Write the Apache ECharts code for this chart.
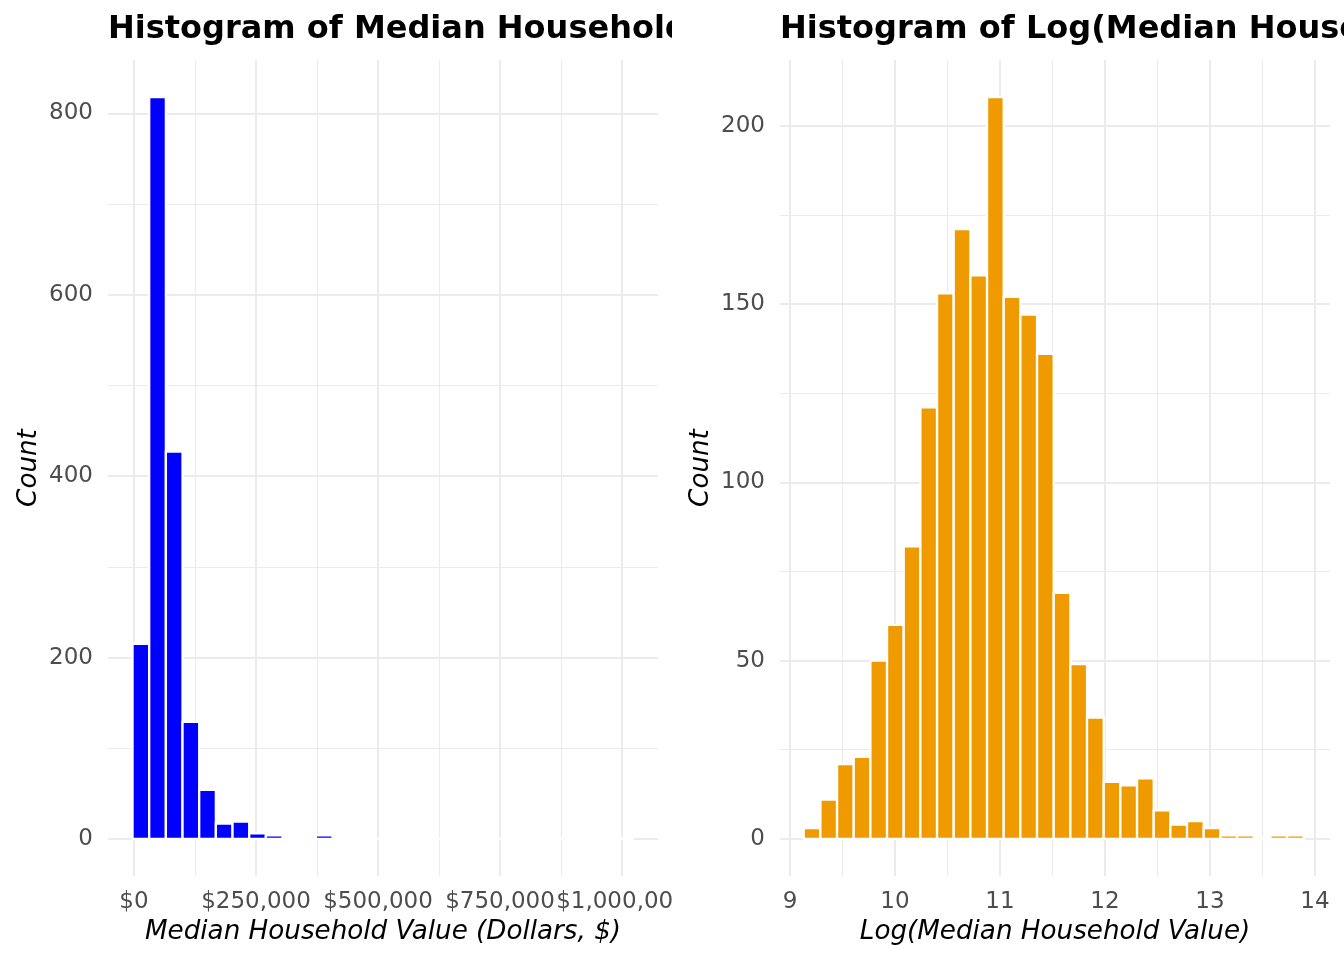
<!DOCTYPE html>
<html>
<head>
<meta charset="utf-8">
<script src="https://cdn.jsdelivr.net/npm/echarts/dist/echarts.min.js"></script>
<style>
html,body{margin:0;padding:0;background:#fff;}
#wrap{display:flex;width:1344px;height:960px;}
.c{width:672px;height:960px;overflow:hidden;}
</style>
</head>
<body>
<div id="wrap"><div id="left" class="c"></div><div id="right" class="c"></div></div>
<script>
// ---- data ----
const leftTitle = 'Histogram of Median Household Value';
const rightTitle = 'Histogram of Log(Median Household Value)';
const leftXName = 'Median Household Value (Dollars, $)';
const rightXName = 'Log(Median Household Value)';
const yName = 'Count';

// histogram bins: 30 equal-width bins
const leftBinStart = -3000;
const leftBinWidth = 34153;
const leftCounts = [215, 818, 427, 129, 54, 17, 19, 6, 4, 0, 0, 4, 0, 0, 0, 0, 0, 0, 0, 0, 0, 0, 0, 0, 0, 0, 0, 0, 0, 1];

const rightBinStart = 9.131;
const rightBinWidth = 0.15872;
const rightCounts = [3, 11, 21, 23, 50, 60, 82, 121, 153, 171, 158, 208, 152, 147, 136, 69, 49, 34, 16, 15, 17, 8, 4, 5, 3, 1, 1, 0, 1, 1];

// tick values
const leftXTicks = [0, 250000, 500000, 750000, 1000000];
const leftXMinor = [125000, 375000, 625000, 875000];
const leftYTicks = [0, 200, 400, 600, 800];
const leftYMinor = [100, 300, 500, 700];
const rightXTicks = [9, 10, 11, 12, 13, 14];
const rightXMinor = [9.5, 10.5, 11.5, 12.5, 13.5];
const rightYTicks = [0, 50, 100, 150, 200];
const rightYMinor = [25, 75, 125, 175];

// axis ranges (ggplot 5% expansion)
const leftXRange = [-53279, 1073770];
const leftYRange = [-40.9, 858.9];
const rightXRange = [8.905, 14.143];
const rightYRange = [-10.4, 218.4];

function binData(start, w, counts) {
  return counts.map((c, i) => [start + i * w, start + (i + 1) * w, c]);
}
function dollar(v) {
  const s = String(Math.round(v)).replace(/\B(?=(\d{3})+(?!\d))/g, ',');
  return '$' + s;
}
const FONT = 'DejaVu Sans';
const GRID = '#EBEBEB';

function makeOption(cfg) {
  const mlData = [];
  cfg.xTicks.forEach(v => mlData.push({xAxis: v, lineStyle: {color: GRID, width: 2, type: 'solid'}}));
  cfg.xMinor.forEach(v => mlData.push({xAxis: v, lineStyle: {color: GRID, width: 1, type: 'solid'}}));
  cfg.yTicks.forEach(v => mlData.push({yAxis: v, lineStyle: {color: GRID, width: 2, type: 'solid'}}));
  cfg.yMinor.forEach(v => mlData.push({yAxis: v, lineStyle: {color: GRID, width: 1, type: 'solid'}}));
  return {
    animation: false,
    backgroundColor: '#fff',
    title: {
      text: cfg.title, left: 108, top: 14, padding: 0,
      textStyle: {fontFamily: FONT, fontSize: 32, fontWeight: 'bold', color: '#000'}
    },
    grid: {left: 108, right: 14, top: 60, bottom: 84, containLabel: false, outerBoundsMode: 'none'},
    xAxis: {
      type: 'value', min: cfg.xRange[0], max: cfg.xRange[1],
      axisLine: {show: false}, axisTick: {show: false}, splitLine: {show: false},
      axisLabel: {
        customValues: cfg.xTicks, formatter: cfg.xFmt, color: '#4D4D4D',
        fontFamily: FONT, fontSize: 23, margin: 15, hideOverlap: false
      },
      name: cfg.xName, nameLocation: 'middle', nameGap: 43, nameMoveOverlap: false,
      nameTextStyle: {fontFamily: FONT, fontSize: 26.2, fontStyle: 'italic', color: '#000'}
    },
    yAxis: {
      type: 'value', min: cfg.yRange[0], max: cfg.yRange[1],
      axisLine: {show: false}, axisTick: {show: false}, splitLine: {show: false},
      axisLabel: {
        customValues: cfg.yTicks, color: '#4D4D4D',
        fontFamily: FONT, fontSize: 23, margin: 15, hideOverlap: false
      },
      name: yName, nameLocation: 'middle', nameGap: 66, nameMoveOverlap: false,
      nameTextStyle: {fontFamily: FONT, fontSize: 26.2, fontStyle: 'italic', color: '#000'}
    },
    series: [{
      type: 'custom',
      z: 3,
      data: cfg.data,
      encode: {x: [0, 1], y: 2},
      renderItem: function (params, api) {
        const p0 = api.coord([api.value(0), 0]);
        const p1 = api.coord([api.value(1), api.value(2)]);
        return {
          type: 'rect',
          shape: {x: p0[0], y: p1[1], width: p1[0] - p0[0], height: p0[1] - p1[1]},
          style: {fill: cfg.color, stroke: '#fff', lineWidth: 2.3}
        };
      },
      markLine: {
        silent: true, z: 1, symbol: ['none', 'none'], animation: false,
        label: {show: false}, emphasis: {disabled: true},
        data: mlData
      }
    }]
  };
}

const leftChart = echarts.init(document.getElementById('left'), null, {renderer: 'canvas'});
leftChart.setOption(makeOption({
  title: leftTitle, xName: leftXName,
  xRange: leftXRange, yRange: leftYRange,
  xTicks: leftXTicks, xMinor: leftXMinor, yTicks: leftYTicks, yMinor: leftYMinor,
  xFmt: dollar,
  data: binData(leftBinStart, leftBinWidth, leftCounts),
  color: '#0000FF'
}));

const rightChart = echarts.init(document.getElementById('right'), null, {renderer: 'canvas'});
rightChart.setOption(makeOption({
  title: rightTitle, xName: rightXName,
  xRange: rightXRange, yRange: rightYRange,
  xTicks: rightXTicks, xMinor: rightXMinor, yTicks: rightYTicks, yMinor: rightYMinor,
  xFmt: function (v) { return String(v); },
  data: binData(rightBinStart, rightBinWidth, rightCounts),
  color: '#EF9B00'
}));
</script>
</body>
</html>
